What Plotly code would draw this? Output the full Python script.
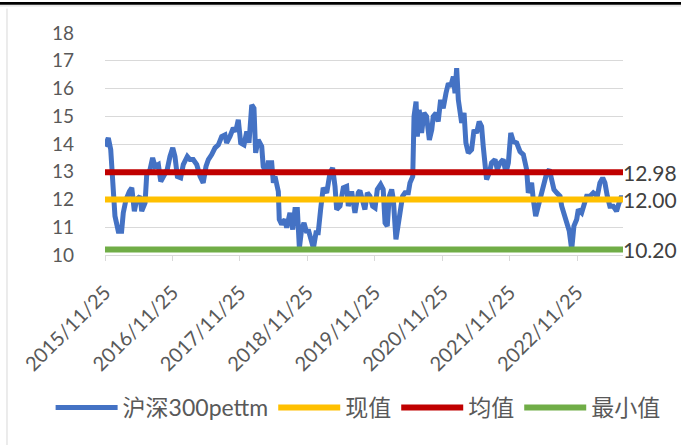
import pandas as pd
import plotly.graph_objects as go

# ---- data ----
start_date = "2015-11-25"
end_date = "2023-08-01"
day_offsets = [0, 18, 31, 42, 54, 72, 90, 99, 114, 132, 145, 159, 172, 190, 199, 217, 226, 244, 258, 271,
               289, 302, 320, 337, 352, 367, 379, 392, 410, 424, 446, 460, 478, 497, 515, 532, 547, 560, 578, 596,
               614, 632, 650, 659, 677, 695, 708, 722, 735, 753, 768, 780, 795, 807, 816, 830, 849, 857, 876, 884,
               903, 912, 921, 939, 944, 957, 975, 984, 1002, 1017, 1029, 1042, 1053, 1065, 1078, 1093, 1101, 1116, 1129, 1143,
               1155, 1168, 1182, 1201, 1219, 1233, 1246, 1255, 1273, 1291, 1309, 1318, 1336, 1354, 1372, 1381, 1396, 1408, 1421, 1435,
               1450, 1463, 1475, 1493, 1507, 1517, 1529, 1540, 1553, 1562, 1576, 1589, 1602, 1612, 1625, 1643, 1652, 1667, 1674, 1685,
               1692, 1702, 1715, 1728, 1742, 1757, 1770, 1778, 1793, 1805, 1818, 1832, 1847, 1860, 1872, 1887, 1896, 1905, 1914, 1923,
               1932, 1945, 1955, 1968, 1986, 1999, 2013, 2027, 2040, 2049, 2058, 2067, 2082, 2094, 2113, 2125, 2140, 2157, 2172, 2185,
               2198, 2212, 2230, 2248, 2266, 2284, 2293, 2311, 2320, 2333, 2347, 2365, 2378, 2393, 2407, 2420, 2432, 2447, 2465, 2474,
               2492, 2504, 2515, 2528, 2540, 2555, 2564, 2582, 2595, 2609, 2627, 2645, 2667, 2681, 2696, 2708, 2721, 2735, 2753, 2771,
               2785, 2798, 2806]
pe_ttm = [13.91, 14.22, 13.80, 12.47, 11.40, 10.86, 10.86, 11.52, 12.00, 12.29, 12.42, 11.58, 12.00, 12.12, 11.58, 11.88, 12.90, 13.08, 13.50, 13.19,
          13.26, 12.65, 12.90, 13.08, 13.55, 13.86, 13.55, 12.83, 12.78, 13.26, 13.55, 13.44, 13.44, 13.26, 12.83, 12.60, 13.19, 13.44, 13.62, 13.86,
          13.97, 14.27, 14.33, 14.04, 14.27, 14.58, 14.45, 14.87, 14.04, 13.97, 14.45, 14.04, 15.41, 15.29, 13.68, 14.15, 13.91, 13.19, 12.96, 13.32,
          13.32, 12.60, 12.83, 12.29, 11.28, 11.10, 11.28, 10.98, 11.52, 10.92, 11.64, 11.64, 10.25, 10.92, 11.16, 10.80, 10.92, 10.56, 10.25, 10.80,
          10.80, 11.64, 12.42, 12.24, 12.96, 13.14, 12.47, 11.64, 11.76, 12.42, 12.47, 11.76, 12.29, 11.52, 12.24, 12.32, 11.88, 11.64, 12.24, 12.12,
          11.76, 11.70, 12.36, 12.54, 12.36, 11.16, 11.04, 12.12, 12.36, 12.00, 10.56, 11.16, 11.64, 12.12, 12.24, 12.24, 12.60, 12.83, 14.99, 15.53,
          14.27, 15.23, 14.40, 15.12, 14.99, 14.15, 14.51, 14.99, 15.12, 14.81, 15.59, 15.29, 15.83, 16.19, 16.07, 16.43, 15.83, 16.73, 15.59, 15.23,
          14.76, 15.12, 14.04, 13.68, 13.80, 14.51, 14.40, 14.81, 14.63, 13.91, 13.44, 12.72, 12.96, 13.32, 13.44, 13.08, 13.32, 13.44, 12.96, 13.32,
          14.40, 14.09, 14.04, 13.73, 13.62, 13.08, 12.24, 12.60, 12.00, 11.40, 11.76, 12.24, 12.72, 12.96, 13.08, 12.60, 12.36, 12.24, 12.12, 11.76,
          11.40, 11.16, 10.86, 10.20, 11.04, 11.28, 11.64, 11.52, 11.88, 12.12, 12.12, 12.24, 12.12, 12.60, 12.78, 12.60, 12.12, 11.76, 11.76, 11.58,
          11.88, 12.12, 12.00]
current_value = 12.00
mean_value = 12.98
min_value = 10.20
series_names = ["沪深300pettm", "现值", "均值", "最小值"]
tick_dates = ["2015-11-25", "2016-11-25", "2017-11-25", "2018-11-25", "2019-11-25",
              "2020-11-25", "2021-11-25", "2022-11-25"]
tick_labels = ["2015/11/25", "2016/11/25", "2017/11/25", "2018/11/25", "2019/11/25",
               "2020/11/25", "2021/11/25", "2022/11/25"]

dates = pd.Timestamp(start_date) + pd.to_timedelta(day_offsets, unit="D")
span = [pd.Timestamp(start_date), pd.Timestamp(end_date)]

FONT = "Lato, 'Noto Sans CJK SC', sans-serif"
TXT = "#595959"
colors = ["#4472C4", "#FFC000", "#C00000", "#70AD47"]

fig = go.Figure()
fig.add_trace(go.Scatter(x=dates, y=pe_ttm, mode="lines", name=series_names[0],
                         line=dict(color=colors[0], width=5)))
for name, val, col in [(series_names[1], current_value, colors[1]),
                       (series_names[2], mean_value, colors[2]),
                       (series_names[3], min_value, colors[3])]:
    fig.add_trace(go.Scatter(x=span, y=[val, val], mode="lines", name=name,
                             line=dict(color=col, width=6)))

for val in [mean_value, current_value, min_value]:
    fig.add_annotation(x=1, xref="paper", y=val, yref="y", text=f"{val:.2f}",
                       showarrow=False, xanchor="left", yanchor="middle", xshift=-2,
                       font=dict(family=FONT, size=21, color="#404040"))

# chart-area borders (top dark edge, light grey frame on the left)
fig.add_shape(type="rect", xref="paper", yref="paper", x0=-0.25, x1=1.2, y0=1.127, y1=1.14,
              line=dict(width=0), fillcolor="#000000", layer="above")
fig.add_shape(type="line", xref="paper", yref="paper", x0=-0.25, x1=1.2, y0=1.122, y1=1.122,
              line=dict(color="#D9D9D9", width=1), layer="above")
fig.add_shape(type="line", xref="paper", yref="paper", x0=-0.1892, x1=-0.1892, y0=1.11, y1=-0.86,
              line=dict(color="#D9D9D9", width=1), layer="above")

fig.update_layout(
    width=681, height=445,
    margin=dict(l=105, r=58, t=33, b=190, autoexpand=False),
    paper_bgcolor="white", plot_bgcolor="white",
    font=dict(family=FONT, color=TXT),
    showlegend=True,
    hovermode=False,
    legend=dict(orientation="h", xref="paper", yref="paper",
                x=-0.105, y=-0.687, xanchor="left", yanchor="middle",
                font=dict(family=FONT, size=23, color=TXT), itemwidth=62,
                bgcolor="rgba(0,0,0,0)"),
    xaxis=dict(type="date", range=span, tickvals=tick_dates, ticktext=tick_labels,
               tickangle=-45, ticks="outside", ticklen=5, tickcolor="#D9D9D9",
               showline=True, linecolor="#D9D9D9", linewidth=1, showgrid=False,
               zeroline=False, automargin=False, ticklabelstandoff=12,
               tickfont=dict(family=FONT, size=20, color=TXT)),
    yaxis=dict(range=[10, 18], dtick=1, showgrid=True, gridcolor="#D9D9D9", gridwidth=1,
               showline=False, zeroline=False, ticks="", ticklabelstandoff=30,
               automargin=False,
               tickfont=dict(family=FONT, size=19, color=TXT)),
)

fig.write_html("out.html", config={"displayModeBar": False},
               post_script="document.body.style.margin='0';")
